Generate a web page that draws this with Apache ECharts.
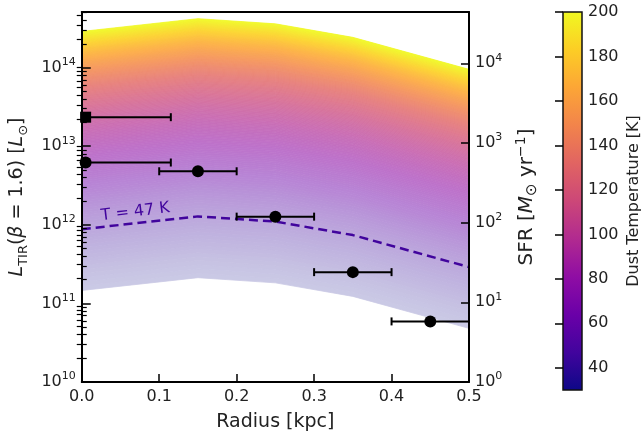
<!DOCTYPE html>
<html><head><meta charset="utf-8">
<script src="https://cdn.jsdelivr.net/npm/echarts@6/dist/echarts.min.js"></script>
<style>html,body{margin:0;padding:0;background:#fff}#c{width:643px;height:437px}</style>
</head><body><div id="c"></div>
<script>
// ---- data ----
const radius = [0, 0.15, 0.25, 0.35, 0.5];                 // kpc, model grid radii
const lirT47 = [8.8e11, 1.28e12, 1.1e12, 7.4e11, 2.9e11];  // L_TIR of the T = 47 K (dashed) model
const tempMin = 30, tempMax = 200, tempRef = 47;           // colour-bar range, dashed-curve temperature
const tempIndex = 4;                                        // L ∝ T^4 spacing of the model curves
const obsRadius = [0.005, 0.005, 0.15, 0.25, 0.35, 0.45];
const obsLow    = [0, 0, 0.1, 0.2, 0.3, 0.4];
const obsHigh   = [0.115, 0.115, 0.2, 0.3, 0.4, 0.5];
const obsLir    = [2.34e13, 6.2e12, 4.8e12, 1.27e12, 2.5e11, 5.9e10];
const obsMarker = ['rect', 'circle', 'circle', 'circle', 'circle', 'circle'];
const xTicks    = [0, 0.1, 0.2, 0.3, 0.4, 0.5];
const lirTicks  = [1e10, 1e11, 1e12, 1e13, 1e14];
const sfrTicks  = [1, 10, 100, 1000, 10000];
const cbarTicks = [40, 60, 80, 100, 120, 140, 160, 180, 200];
const plasma = ['#0d0887','#41049d','#6a00a8','#8f0da4','#b12a90','#cc4778','#e16462','#f2844b','#fca636','#fcce25','#f0f921'];

// minor log ticks
function minors(lo, hi, maxV) { const a = []; for (let e = lo; e <= hi; e++) for (let k = 2; k <= 9; k++) { const v = k * Math.pow(10, e); if (v <= maxV) a.push(v); } return a; }
const lirMax = 5.1e14, sfrMax = 4.4e4;
const lirMinor = minors(10, 14, lirMax);
const sfrMinor = minors(0, 4, sfrMax);

const shadeTemps = []; for (let t = tempMin; t < tempMax; t++) shadeTemps.push(t);

function hexRgb(h) { return [parseInt(h.slice(1,3),16), parseInt(h.slice(3,5),16), parseInt(h.slice(5,7),16)]; }
const plasmaRgb = plasma.map(hexRgb);
function plasmaAt(f) { f = Math.max(0, Math.min(1, f)) * (plasmaRgb.length - 1); const i = Math.min(Math.floor(f), plasmaRgb.length - 2); const u = f - i; return plasmaRgb[i].map((c, k) => c + (plasmaRgb[i+1][k] - c) * u); }
function shadeColor(T) {
  const base = plasmaAt((T - tempMin) / (tempMax - tempMin));
  const eff = 1 - Math.exp(-0.0029 * Math.pow(T, 1.3));
  const c = base.map(v => Math.round(255 - (255 - v) * eff));
  return 'rgb(' + c.join(',') + ')';
}
function curve(T) { return lirT47.map(v => v * Math.pow(T / tempRef, tempIndex)); }

const FF = 'DejaVu Sans';
const TXT = '#222';
const powRich = { b: { fontSize: 16, lineHeight: 22, fontFamily: FF, color: TXT }, s: { fontSize: 11, lineHeight: 10, verticalAlign: 'top', fontFamily: FF, color: TXT } };
const powFmt = v => '{b|10}{s|' + Math.round(Math.log10(v)) + '}';

const chart = echarts.init(document.getElementById('c'), null, { renderer: 'canvas' });
chart.setOption({
  animation: false,
  backgroundColor: '#fff',
  grid: [
    { left: 76, right: 174, top: 12, bottom: 54 },
    { left: 563, width: 20, top: 12, height: 378 }
  ],
  xAxis: [
    { type: 'value', gridIndex: 0, min: 0, max: 0.5, interval: 0.1, z: 10,
      name: 'Radius [kpc]', nameLocation: 'middle', nameGap: 31,
      nameTextStyle: { fontSize: 19, fontFamily: FF, color: TXT },
      axisLine: { show: true, lineStyle: { color: '#000', width: 2 } },
      axisTick: { show: true, inside: true, length: 8, lineStyle: { color: '#000', width: 1.5 }, customValues: xTicks },
      axisLabel: { fontSize: 16, fontFamily: FF, color: TXT, margin: 7, formatter: v => v.toFixed(1), customValues: xTicks },
      splitLine: { show: false } },
    { type: 'value', gridIndex: 0, position: 'top', min: 0, max: 0.5, z: 10,
      axisLine: { show: true, onZero: false, lineStyle: { color: '#000', width: 2 } },
      axisTick: { show: false }, axisLabel: { show: false }, splitLine: { show: false } },
    { type: 'value', gridIndex: 1, min: 0, max: 1, show: false }
  ],
  yAxis: [
    { type: 'log', gridIndex: 0, position: 'left', min: 1e10, max: lirMax, z: 10,
      name: '{it|L}{sub|TIR}({it|β} = 1.6) [{it|L}{sub|⊙}]', nameLocation: 'middle', nameRotate: 90, nameGap: 44,
      nameTextStyle: { fontSize: 19, fontFamily: FF, color: TXT,
        rich: { it: { fontStyle: 'italic', fontSize: 19, lineHeight: 26, fontFamily: FF, color: TXT },
                sub: { fontSize: 13, lineHeight: 10, verticalAlign: 'bottom', fontFamily: FF, color: TXT } } },
      axisLine: { show: true, onZero: false, lineStyle: { color: '#000', width: 2 } },
      axisTick: { show: true, inside: true, length: 9, lineStyle: { color: '#000', width: 1.5 }, customValues: lirTicks },
      axisLabel: { formatter: powFmt, rich: powRich, margin: 6, customValues: lirTicks },
      splitLine: { show: false }, minorTick: { show: false } },
    { type: 'log', gridIndex: 0, position: 'right', min: 1, max: sfrMax, z: 10,
      name: 'SFR [{it|M}{sub|⊙} yr{sup|−1}]', nameLocation: 'middle', nameRotate: 90, nameGap: 45,
      nameTextStyle: { fontSize: 20, fontFamily: FF, color: TXT,
        rich: { it: { fontStyle: 'italic', fontSize: 20, lineHeight: 26, fontFamily: FF, color: TXT },
                sub: { fontSize: 15, lineHeight: 10, verticalAlign: 'bottom', fontFamily: FF, color: TXT },
                sup: { fontSize: 14, lineHeight: 10, verticalAlign: 'top', fontFamily: FF, color: TXT } } },
      axisLine: { show: true, onZero: false, lineStyle: { color: '#000', width: 2 } },
      axisTick: { show: true, inside: true, length: 8, lineStyle: { color: '#000', width: 1.5 }, customValues: sfrTicks },
      axisLabel: { formatter: powFmt, rich: powRich, margin: 6, customValues: sfrTicks },
      splitLine: { show: false } },
    { type: 'log', gridIndex: 0, position: 'left', min: 1e10, max: lirMax, z: 10,
      axisLine: { show: false }, axisLabel: { show: false }, splitLine: { show: false },
      axisTick: { show: true, inside: true, length: 5, lineStyle: { color: '#000', width: 1.2 }, customValues: lirMinor } },
    { type: 'log', gridIndex: 0, position: 'right', min: 1, max: sfrMax, z: 10,
      axisLine: { show: false }, axisLabel: { show: false }, splitLine: { show: false },
      axisTick: { show: true, inside: true, length: 5, lineStyle: { color: '#000', width: 1.2 }, customValues: sfrMinor } },
    { type: 'value', gridIndex: 1, position: 'right', min: tempMin, max: tempMax, z: 10,
      name: 'Dust Temperature [K]', nameLocation: 'middle', nameRotate: 90, nameGap: 44,
      nameTextStyle: { fontSize: 16, fontFamily: FF, color: TXT },
      axisLine: { show: false },
      axisTick: { show: true, inside: true, length: 8, lineStyle: { color: '#000', width: 1.5 }, customValues: cbarTicks },
      axisLabel: { fontSize: 16, fontFamily: FF, color: TXT, margin: 6, customValues: cbarTicks },
      splitLine: { show: false } }
  ],
  graphic: [
    { type: 'text', left: 100, top: 200, rotation: 0.12, z: 20,
      style: { text: 'T = 47 K', fontSize: 16, fontFamily: FF, fill: '#41049d' } }
  ],
  series: [
    { type: 'custom', xAxisIndex: 0, yAxisIndex: 0, z: 1, silent: true,
      data: shadeTemps.map(t => [radius[0], lirT47[0], t]),
      encode: { x: 0, y: 1 },
      renderItem: function (params, api) {
        const T = api.value(2);
        const lo = curve(T), hi = curve(T + 1);
        const pts = radius.map((r, i) => api.coord([r, hi[i]]));
        for (let i = radius.length - 1; i >= 0; i--) pts.push(api.coord([radius[i], lo[i]]));
        const col = shadeColor(T + 0.5);
        return { type: 'polygon', shape: { points: pts }, style: { fill: col, stroke: col, lineWidth: 0.8 } };
      } },
    { type: 'line', xAxisIndex: 0, yAxisIndex: 0, z: 3, showSymbol: false, silent: true,
      data: radius.map((r, i) => [r, lirT47[i]]),
      lineStyle: { color: '#41049d', width: 2.5, type: [9, 5] } },
    { type: 'custom', xAxisIndex: 0, yAxisIndex: 0, z: 4, silent: true,
      data: obsRadius.map((r, i) => [obsLow[i], obsHigh[i], obsLir[i]]),
      encode: { x: [0, 1], y: 2 },
      renderItem: function (params, api) {
        const a = api.coord([api.value(0), api.value(2)]);
        const b = api.coord([api.value(1), api.value(2)]);
        const st = { stroke: '#000', lineWidth: 2 };
        return { type: 'group', children: [
          { type: 'line', shape: { x1: a[0], y1: a[1], x2: b[0], y2: b[1] }, style: st },
          { type: 'line', shape: { x1: a[0], y1: a[1] - 4, x2: a[0], y2: a[1] + 4 }, style: st },
          { type: 'line', shape: { x1: b[0], y1: b[1] - 4, x2: b[0], y2: b[1] + 4 }, style: st }
        ] };
      } },
    { type: 'scatter', xAxisIndex: 0, yAxisIndex: 0, z: 5, silent: true,
      data: obsRadius.map((r, i) => ({ value: [r, obsLir[i]], symbol: obsMarker[i], symbolSize: obsMarker[i] === 'rect' ? 11 : 12 })),
      itemStyle: { color: '#000', opacity: 1 } },
    { type: 'custom', xAxisIndex: 2, yAxisIndex: 4, z: 2, silent: true,
      data: [[0, tempMin, 1, tempMax]],
      encode: { x: [0, 2], y: [1, 3] },
      renderItem: function (params, api) {
        const p0 = api.coord([api.value(0), api.value(1)]);
        const p1 = api.coord([api.value(2), api.value(3)]);
        return { type: 'rect', shape: { x: p0[0], y: p1[1], width: p1[0] - p0[0], height: p0[1] - p1[1] },
          style: { fill: new echarts.graphic.LinearGradient(0, 1, 0, 0, plasma.map((c, i) => ({ offset: i / (plasma.length - 1), color: c }))),
                   stroke: '#111', lineWidth: 1.5 } };
      } }
  ]
});
</script></body></html>
